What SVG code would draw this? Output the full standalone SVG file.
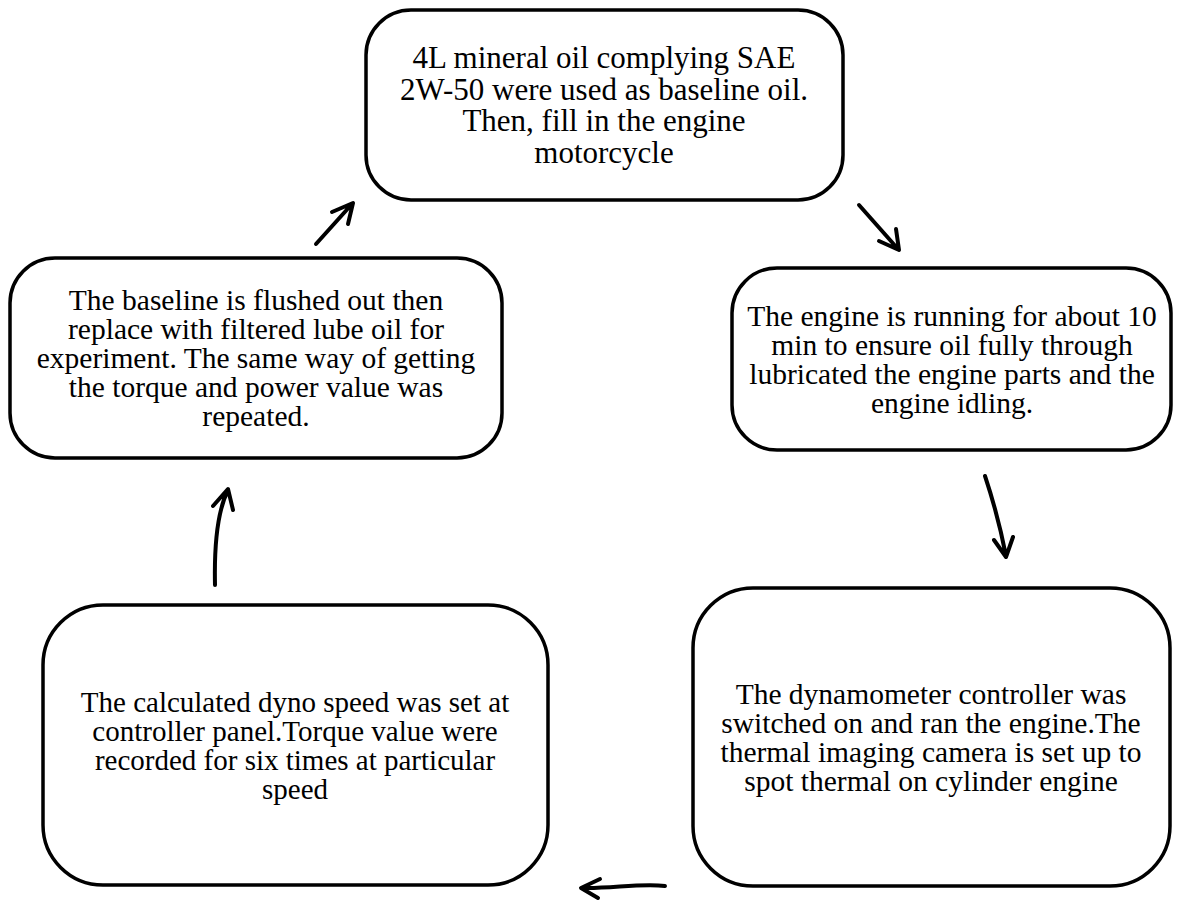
<svg xmlns="http://www.w3.org/2000/svg" width="1181" height="901" viewBox="0 0 1181 901">
<style>
.box{fill:#fff;stroke:#000;stroke-width:3.5}
.t{font-family:"Liberation Serif","Times New Roman",serif;font-size:29.5px;fill:#000;text-anchor:middle}
.big{font-size:31px}
.arr{fill:none;stroke:#000;stroke-width:4;stroke-linecap:round;stroke-linejoin:round}
</style>
<rect width="1181" height="901" fill="#fff"/>
<g id="n1">
<rect class="box" x="366" y="10" width="477" height="190" rx="45" ry="45"/>
<text class="t big"><tspan x="604" y="68">4L mineral oil complying SAE</tspan><tspan x="604" y="99.5">2W-50 were used as baseline oil.</tspan><tspan x="604" y="131">Then, fill in the engine</tspan><tspan x="604" y="162.5">motorcycle</tspan></text>
</g>
<g id="n2">
<rect class="box" x="732" y="268" width="439" height="182" rx="45" ry="45"/>
<text class="t"><tspan x="952" y="325.5">The engine is running for about 10</tspan><tspan x="952" y="354.5">min to ensure oil fully through</tspan><tspan x="952" y="383.5">lubricated the engine parts and the</tspan><tspan x="952" y="412.5">engine idling.</tspan></text>
</g>
<g id="n3">
<rect class="box" x="693" y="588" width="477" height="298" rx="60" ry="60"/>
<text class="t"><tspan x="931" y="703.5">The dynamometer controller was</tspan><tspan x="931" y="732.5">switched on and ran the engine.The</tspan><tspan x="931" y="761.5">thermal imaging camera is set up to</tspan><tspan x="931" y="790.5">spot thermal on cylinder engine</tspan></text>
</g>
<g id="n4">
<rect class="box" x="43" y="605" width="505" height="280" rx="60" ry="60"/>
<text class="t" style="font-size:29px"><tspan x="295" y="711.5">The calculated dyno speed was set at</tspan><tspan x="295" y="740.5">controller panel.Torque value were</tspan><tspan x="295" y="769.5">recorded for six times at particular</tspan><tspan x="295" y="798.5">speed</tspan></text>
</g>
<g id="n5">
<rect class="box" x="10" y="258" width="492" height="200" rx="45" ry="45"/>
<text class="t"><tspan x="256" y="310">The baseline is flushed out then</tspan><tspan x="256" y="339">replace with filtered lube oil for</tspan><tspan x="256" y="368">experiment. The same way of getting</tspan><tspan x="256" y="397">the torque and power value was</tspan><tspan x="256" y="426">repeated.</tspan></text>
</g>
<g id="connectors">
<path class="arr" d="M316,244 L352,204 M332,212 L353,203 L348,224"/>
<path class="arr" d="M859,205 L898,249 M879,241 L899,250 L896,229"/>
<path class="arr" d="M985,476 Q998,515 1006,556 M994,540 L1006,557 L1013,537"/>
<path class="arr" d="M665,886 C640,883 610,889 582,888 M600,879 L581,888 L598,898"/>
<path class="arr" d="M215,585 C214,540 218,510 228,490 M213,506 L228,489 L233,510"/>
</g>
</svg>
